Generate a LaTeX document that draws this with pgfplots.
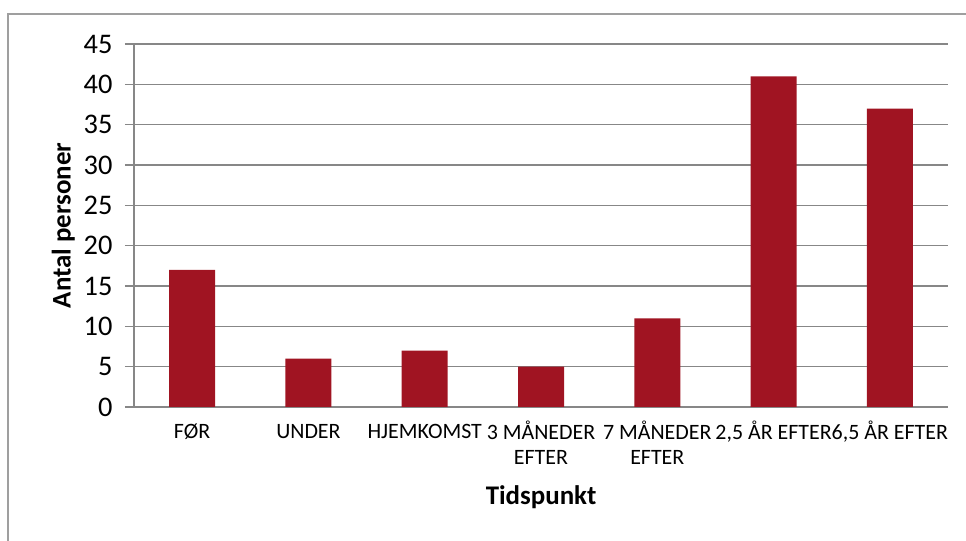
\documentclass[border=0pt]{standalone}
\usepackage{pgfplots}
\pgfplotsset{compat=1.18}
\usepackage{fontspec}
\setmainfont{Carlito}

\definecolor{barred}{RGB}{160,20,34}
\definecolor{gridgray}{RGB}{135,135,135}

\begin{document}
\begin{tikzpicture}
\useasboundingbox (0,0) rectangle (966bp,541bp);
\draw[gridgray!80,line width=1.2bp] (8bp,0) -- (8bp,527bp) -- (966bp,527bp);
\begin{axis}[
  at={(134bp,134bp)}, anchor=south west,
  scale only axis, width=814bp, height=363bp,
  xmin=-0.5, xmax=6.5, ymin=0, ymax=45,
  ytick={0,5,...,45},
  xtick={0,...,6},
  xticklabels={\strut FØR,\strut UNDER,\strut HJEMKOMST,{\strut 3 MÅNEDER\\EFTER},{\strut 7 MÅNEDER\\EFTER},{\strut 2,5 ÅR EFTER},{\strut 6,5 ÅR EFTER}},
  xtick style={draw=none},
  ytick style={gridgray,line width=1.5bp},
  tick align=outside, major tick length=9bp,
  axis x line*=bottom, axis y line*=left,
  axis line style={gridgray,line width=1.5bp,-},
  ymajorgrids, grid style={gridgray,line width=1.5bp},
  /pgf/number format/assume math mode=true,
  yticklabel style={font=\fontsize{28.5}{32}\selectfont, xshift=-9bp},
  xticklabel style={font=\fontsize{22}{26}\selectfont, align=center, yshift=-1bp},
  xlabel={Tidspunkt}, ylabel={Antal personer},
  label style={font=\fontsize{27}{30}\selectfont\bfseries},
  xlabel style={yshift=-14bp},
  ylabel style={yshift=2bp},
  ybar, bar width=46bp,
]
\addplot[fill=barred, draw=none] coordinates {
 (0,17) (1,6) (2,7) (3,5) (4,11) (5,41) (6,37)};
\end{axis}
\end{tikzpicture}
\end{document}
